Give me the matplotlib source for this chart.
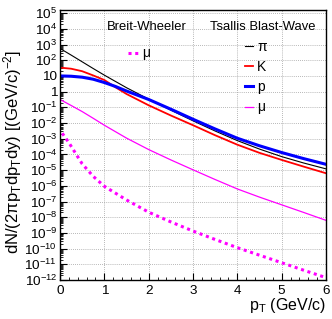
import matplotlib
matplotlib.use("Agg")
import matplotlib.pyplot as plt
import numpy as np
from matplotlib.ticker import FixedLocator, FuncFormatter, MultipleLocator

plt.rcParams["font.family"] = ["Liberation Sans", "DejaVu Sans"]
plt.rcParams["mathtext.fontset"] = "custom"
plt.rcParams["mathtext.rm"] = "Liberation Sans"
plt.rcParams["mathtext.it"] = "Liberation Sans:italic"
plt.rcParams["mathtext.bf"] = "Liberation Sans:bold"

# Tsallis Blast-Wave spectra, log10 values
pt_tbw = [0, 0.25, 0.5, 0.75, 1.0, 1.25, 1.5, 2.0, 2.5, 3.0, 3.5, 4.0, 4.5, 5.0, 5.5, 6.0]
log_pion = [2.75, 2.33, 1.90, 1.47, 1.05, 0.65, 0.25, -0.48, -1.18, -1.86, -2.51, -3.12, -3.66, -4.14, -4.55, -4.92]
log_kaon = [1.53, 1.46, 1.30, 1.03, 0.74, 0.28, -0.15, -0.87, -1.52, -2.14, -2.78, -3.38, -3.90, -4.35, -4.78, -5.20]
log_proton = [1.00, 0.98, 0.92, 0.79, 0.58, 0.33, 0.04, -0.50, -1.12, -1.76, -2.38, -2.97, -3.45, -3.88, -4.27, -4.63]
log_muon = [-0.50, -0.88, -1.27, -1.70, -2.14, -2.55, -2.96, -3.69, -4.35, -4.98, -5.60, -6.20, -6.72, -7.21, -7.70, -8.20]

# Breit-Wheeler muons
pt_bw = [0.05, 0.1, 0.2, 0.3, 0.4, 0.5, 0.75, 1.0, 1.5, 2.0, 2.5, 3.0, 3.5, 4.0, 4.5, 5.0, 5.5, 6.0]
log_muon_bw = [-2.65, -2.85, -3.25, -3.70, -4.15, -4.60, -5.40, -6.03, -6.90, -7.68, -8.30, -8.88,
               -9.42, -9.94, -10.42, -10.90, -11.38, -11.85]

decades = list(range(-12, 6))


def ylab(v, pos):
    k = int(round(np.log10(v)))
    if k == 0:
        return "1"
    if k == 1:
        return "10"
    return r"$\mathregular{10^{%d}}$" % k


fig = plt.figure(figsize=(3.32, 3.19), dpi=100)
ax = fig.add_axes([60 / 332, 1 - 280 / 319, 266 / 332, 270 / 319])

ax.plot(pt_tbw, 10 ** np.array(log_pion), color="black", lw=0.8, label="π")
ax.plot(pt_tbw, 10 ** np.array(log_kaon), color="#ff0000", lw=1.3, label="K")
ax.plot(pt_tbw, 10 ** np.array(log_proton), color="#0000ff", lw=2.2, label="p")
ax.plot(pt_tbw, 10 ** np.array(log_muon), color="#ff00ff", lw=0.9, label="μ")
bw_line, = ax.plot(pt_bw, 10 ** np.array(log_muon_bw), color="#ff00ff", lw=2.2,
                   linestyle=(0, (1.0, 1.2)), label="μ")

ax.set_yscale("log")
ax.set_xlim(0, 6)
ax.set_ylim(1e-12, 10 ** 5.2)

ax.xaxis.set_major_locator(MultipleLocator(1))
ax.xaxis.set_minor_locator(MultipleLocator(0.2))
ax.yaxis.set_major_locator(FixedLocator([10.0 ** k for k in decades]))
ax.yaxis.set_major_formatter(FuncFormatter(ylab))
minors = [m * 10.0 ** k for k in decades[:-1] for m in range(2, 10)]
ax.yaxis.set_minor_locator(FixedLocator(minors))
ax.yaxis.set_minor_formatter(FuncFormatter(lambda v, p: ""))

ax.tick_params(which="both", direction="in", top=False, right=False, labelsize=9.7)
ax.tick_params(which="major", length=5, width=0.8)
ax.tick_params(which="minor", length=2.5, width=0.6)
ax.tick_params(axis="x", pad=3.5)
ax.tick_params(axis="y", pad=2)
for s in ax.spines.values():
    s.set_linewidth(1.0)

ax.grid(True, which="major", color="#a0a0a0", linestyle=(0, (1, 1.5)), linewidth=0.6)

ax.set_ylabel(r"dN/(2πp$_{\mathregular{T}}$dp$_{\mathregular{T}}$dy) [(GeV/c)$^{\mathregular{-2}}$]",
              fontsize=12)
ax.yaxis.set_label_coords(-0.135, 0.474)
ax.text(1.0, -0.093, r"p$_{\mathregular{T}}$ (GeV/c)", transform=ax.transAxes,
        ha="right", va="center", fontsize=11.5)

ax.text(0.326, 0.938, "Breit-Wheeler", transform=ax.transAxes, ha="center", va="center", fontsize=9.4)
ax.text(0.763, 0.938, "Tsallis Blast-Wave", transform=ax.transAxes, ha="center", va="center", fontsize=9.4)

h = ax.get_lines()[:4]
leg1 = ax.legend(h, [l.get_label() for l in h], loc="upper left", bbox_to_anchor=(0.695, 0.89),
                 frameon=False, fontsize=10, handlelength=0.6, handletextpad=0.3,
                 labelspacing=0.45, borderpad=0, borderaxespad=0)
ax.add_artist(leg1)
ax.legend([bw_line], ["μ"], loc="upper left", bbox_to_anchor=(0.256, 0.865),
          frameon=False, fontsize=10, handlelength=0.7, handletextpad=0.3,
          borderpad=0, borderaxespad=0)

fig.savefig("out.png", dpi=100)
